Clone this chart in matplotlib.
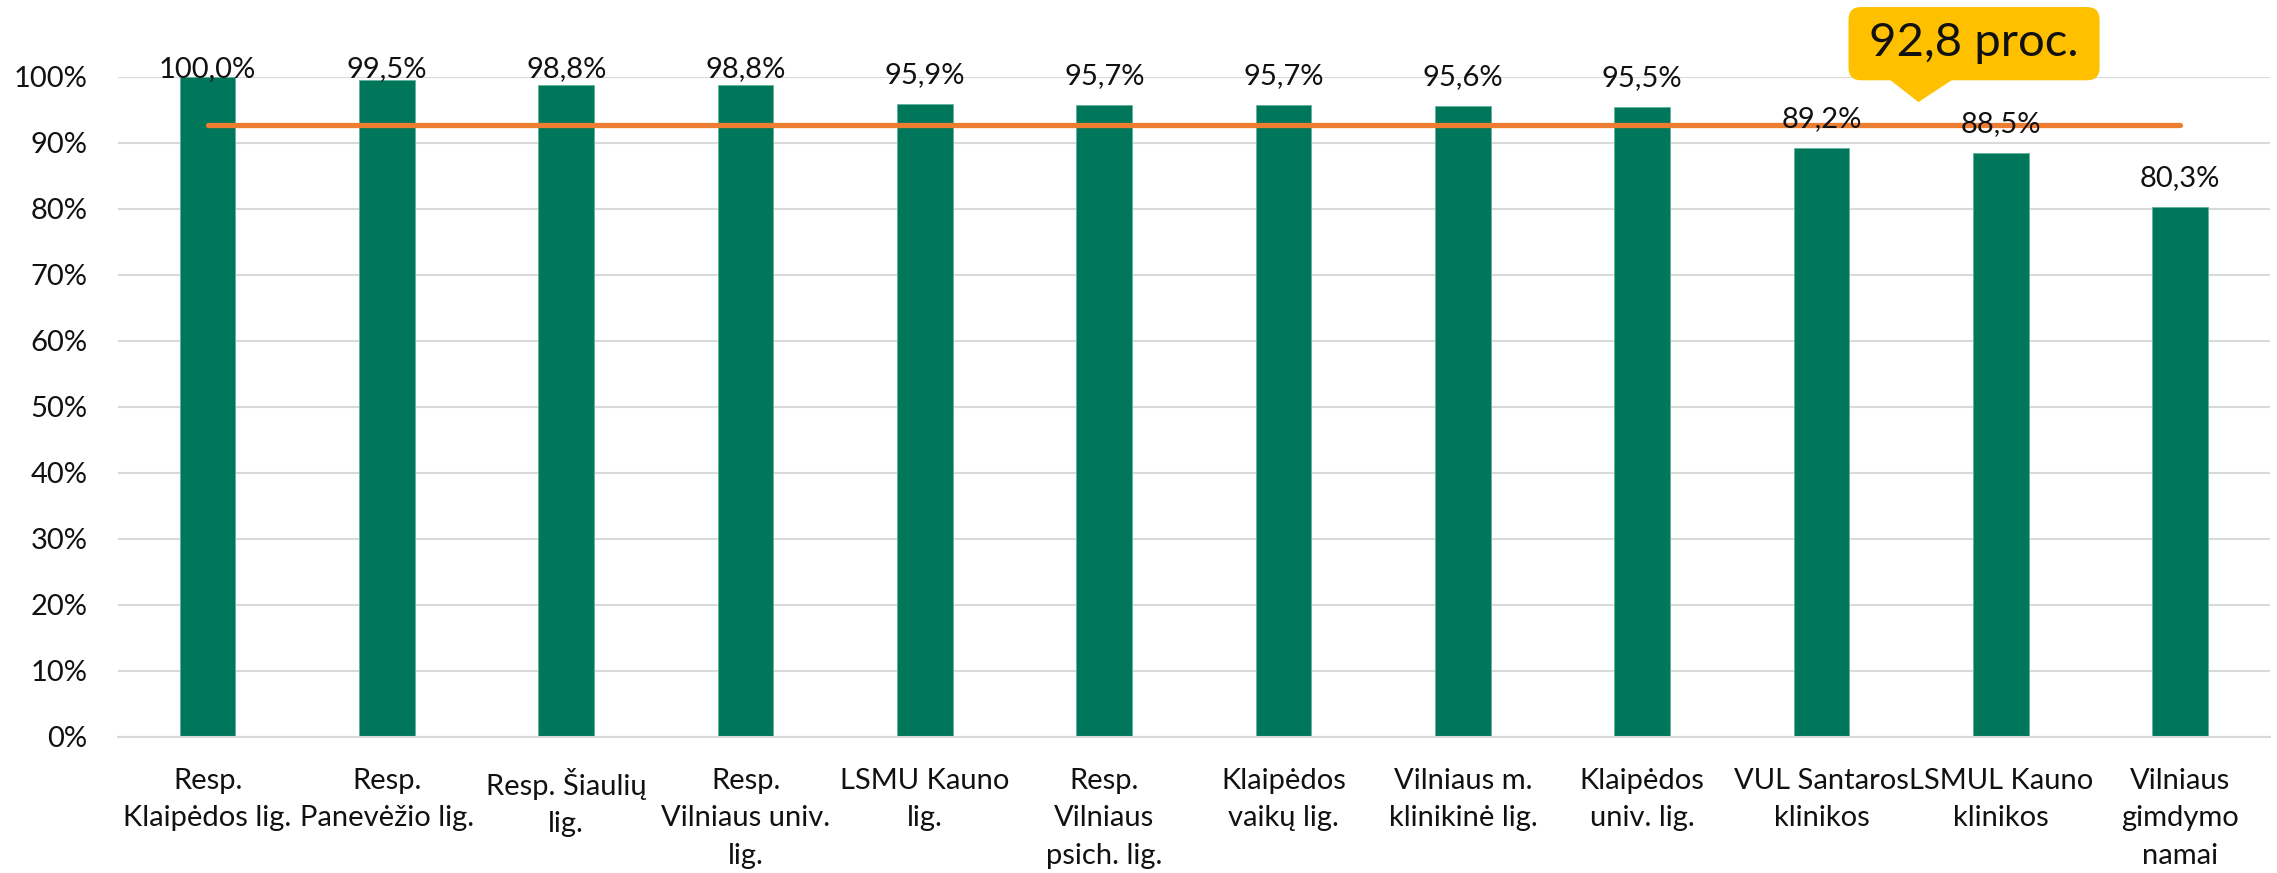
import numpy as np
import matplotlib
matplotlib.use("Agg")
import matplotlib.pyplot as plt
from matplotlib.patches import FancyBboxPatch, Polygon
from matplotlib.ticker import FuncFormatter

plt.rcParams['font.family'] = ['Lato', 'DejaVu Sans']

# data
hospitals = ["Resp.\nKlaipėdos lig.", "Resp.\nPanevėžio lig.", "Resp. Šiaulių\nlig.",
             "Resp.\nVilniaus univ.\nlig.", "LSMU Kauno\nlig.", "Resp.\nVilniaus\npsich. lig.",
             "Klaipėdos\nvaikų lig.", "Vilniaus m.\nklinikinė lig.", "Klaipėdos\nuniv. lig.",
             "VUL Santaros\nklinikos", "LSMUL Kauno\nklinikos", "Vilniaus\ngimdymo\nnamai"]
shares = [100.0, 99.5, 98.8, 98.8, 95.9, 95.7, 95.7, 95.6, 95.5, 89.2, 88.5, 80.3]
average = 92.8
average_label = "92,8 proc."

green = "#00765A"
orange = "#ED7D31"
grid_c = "#D9D9D9"

fig = plt.figure(figsize=(22.77, 8.73), dpi=100)
ax = fig.add_axes([0.0518, 0.1558, 0.9451, 0.756])

x = np.arange(len(hospitals))
bars = ax.bar(x, shares, width=0.31, color=green, edgecolor="#5fb59c", linewidth=0.6, zorder=2)

# average line from first to last category
ax.plot([x[0], x[-1]], [average, average], color=orange, lw=3.8,
        solid_capstyle="round", zorder=3)

# value labels sit a bit above the bar, but not above the top of the plot
for xi, v in zip(x, shares):
    ax.text(xi, min(v + 3.2, 100.0), f"{v:.1f}%".replace(".", ","),
            ha="center", va="baseline", fontsize=21, color="#111111", zorder=4)

ax.set_xlim(-0.5, len(hospitals) - 0.5)
ax.set_ylim(0, 100)
ax.set_yticks(np.arange(0, 101, 10))
ax.yaxis.set_major_formatter(FuncFormatter(lambda v, p: f"{v:.0f}%"))
ax.set_xticks(x)
ax.set_xticklabels(hospitals, fontsize=21, linespacing=1.55)
ax.tick_params(axis="y", length=0, pad=22, labelsize=21, labelcolor="#111111")
ax.tick_params(axis="x", length=0, pad=22, labelcolor="#111111")
ax.grid(axis="y", color=grid_c, lw=1.5, zorder=0)
ax.set_axisbelow(True)
for s in ["left", "right", "top"]:
    ax.spines[s].set_visible(False)
ax.spines["bottom"].set_color(grid_c)
ax.spines["bottom"].set_linewidth(1.5)

# callout box
box = FancyBboxPatch((9.15, 99.5), 1.40, 11.1,
                     boxstyle="round,pad=0,rounding_size=0.07",
                     mutation_aspect=27.2, fc="#FFC000", ec="none",
                     clip_on=False, zorder=5)
ax.add_patch(box)
tri = Polygon([[9.38, 99.6], [9.73, 99.6], [9.54, 96.2]], closed=True,
              fc="#FFC000", ec="none", clip_on=False, zorder=5)
ax.add_patch(tri)
ax.text(9.85, 105.1, average_label, ha="center", va="center", fontsize=34,
        color="#111111", zorder=6, clip_on=False)

fig.savefig("out.png", dpi=100)
